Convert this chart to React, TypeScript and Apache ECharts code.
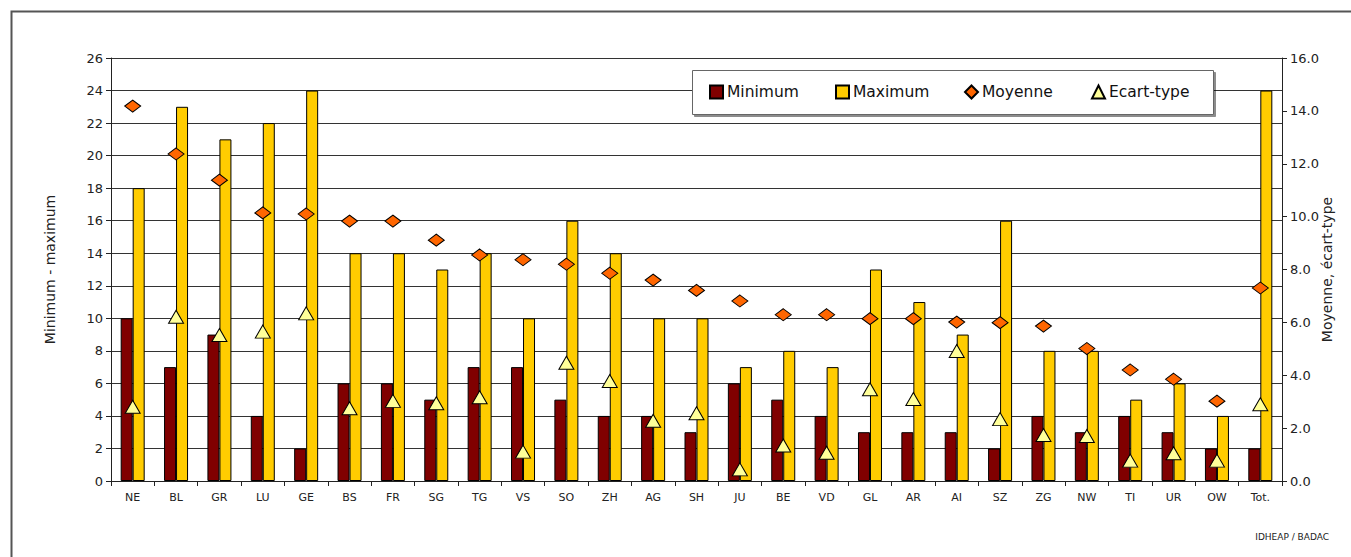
import React, { useEffect, useRef } from "react";
import * as echarts from "echarts";

const categories = ["NE", "BL", "GR", "LU", "GE", "BS", "FR", "SG", "TG", "VS", "SO", "ZH", "AG", "SH", "JU", "BE", "VD", "GL", "AR", "AI", "SZ", "ZG", "NW", "TI", "UR", "OW", "Tot."];
const minimum = [10, 7, 9, 4, 2, 6, 6, 5, 7, 7, 5, 4, 4, 3, 6, 5, 4, 3, 3, 3, 2, 4, 3, 4, 3, 2, 2];
const maximum = [18, 23, 21, 22, 24, 14, 14, 13, 14, 10, 16, 14, 10, 10, 7, 8, 7, 13, 11, 9, 16, 8, 8, 5, 6, 4, 24];
const moyenne = [14.18, 12.37, 11.38, 10.14, 10.1, 9.83, 9.83, 9.11, 8.55, 8.37, 8.2, 7.86, 7.6, 7.21, 6.81, 6.29, 6.29, 6.14, 6.14, 6.01, 5.99, 5.86, 5.01, 4.2, 3.85, 3.02, 7.3];
const ecartType = [2.81, 6.21, 5.52, 5.65, 6.34, 2.75, 3.03, 2.94, 3.17, 1.11, 4.47, 3.78, 2.28, 2.56, 0.44, 1.34, 1.07, 3.47, 3.1, 4.92, 2.34, 1.74, 1.7, 0.77, 1.05, 0.77, 2.9];
const leftTicks = { min: 0, max: 26, interval: 2 };
const rightTicks = { min: 0, max: 16, interval: 2 };
const legendNames = ["Minimum", "Maximum", "Moyenne", "Ecart-type"];
const legendIcons = ["rect", "rect", "diamond", "triangle"];

const FONT = "DejaVu Sans";
const LEGEND_LEFTS = [709, 835, 964, 1091];

export default function App() {
  const ref = useRef<HTMLDivElement>(null);
  useEffect(() => {
    if (!ref.current) return;
    const chart = echarts.init(ref.current, null, { renderer: "svg" });
    const legends = legendNames.map((name, i) => ({
      left: LEGEND_LEFTS[i],
      top: 84,
      padding: 0,
      itemWidth: 13,
      itemHeight: 13,
      itemGap: 5,
      textStyle: { fontFamily: FONT, fontSize: 15.5, color: "#111", padding: [0, 0, 0, -1] },
      data: [{ name, icon: legendIcons[i] }],
      z: 10,
    }));
    chart.setOption({
      animation: false,
      backgroundColor: "#ffffff",
      textStyle: { fontFamily: FONT },
      grid: { left: 111, right: 69, top: 58, bottom: 76 },
      legend: legends,
      xAxis: {
        type: "category",
        data: categories,
        axisLine: { lineStyle: { color: "#222", width: 1 } },
        axisTick: { show: true, length: 5, lineStyle: { color: "#222" } },
        axisLabel: { fontSize: 11, color: "#222", margin: 11, fontFamily: FONT },
      },
      yAxis: [
        {
          type: "value",
          min: leftTicks.min,
          max: leftTicks.max,
          interval: leftTicks.interval,
          name: "Minimum - maximum",
          nameLocation: "middle",
          nameGap: 54,
          nameMoveOverlap: false,
          nameRotate: 90,
          nameTextStyle: { fontSize: 14, color: "#222", fontFamily: FONT },
          axisLine: { show: true, lineStyle: { color: "#222" } },
          axisTick: { show: true, length: 5, lineStyle: { color: "#222" } },
          axisLabel: { fontSize: 13, color: "#222", margin: 8, fontFamily: FONT },
          splitLine: { show: true, lineStyle: { color: "#333", width: 1 } },
        },
        {
          type: "value",
          min: rightTicks.min,
          max: rightTicks.max,
          interval: rightTicks.interval,
          position: "right",
          name: "Moyenne, écart-type",
          nameLocation: "middle",
          nameGap: 38,
          nameMoveOverlap: false,
          nameRotate: 90,
          nameTextStyle: { fontSize: 14, color: "#222", fontFamily: FONT },
          axisLine: { show: true, lineStyle: { color: "#222" } },
          axisTick: { show: true, length: 5, lineStyle: { color: "#222" } },
          axisLabel: {
            fontSize: 13,
            color: "#222",
            margin: 8,
            fontFamily: FONT,
            formatter: (v: number) => v.toFixed(1),
          },
          splitLine: { show: false },
        },
      ],
      series: [
        {
          name: "Minimum",
          type: "bar",
          data: minimum,
          yAxisIndex: 0,
          barWidth: 12,
          barGap: "0%",
          itemStyle: { color: "#800000", borderColor: "#000", borderWidth: 1 },
        },
        {
          name: "Maximum",
          type: "bar",
          data: maximum,
          yAxisIndex: 0,
          barWidth: 12,
          barGap: "0%",
          itemStyle: { color: "#FFCC00", borderColor: "#000", borderWidth: 1 },
        },
        {
          name: "Moyenne",
          type: "scatter",
          data: moyenne,
          yAxisIndex: 1,
          symbol: "diamond",
          symbolSize: [16, 12],
          itemStyle: { color: "#FF6600", borderColor: "#000", borderWidth: 1, opacity: 1 },
          z: 5,
        },
        {
          name: "Ecart-type",
          type: "scatter",
          data: ecartType,
          yAxisIndex: 1,
          symbol: "triangle",
          symbolSize: [15, 13],
          itemStyle: { color: "#FFFF99", borderColor: "#000", borderWidth: 1, opacity: 1 },
          z: 5,
        },
      ],
      graphic: [
        {
          type: "rect",
          left: 9,
          top: 9,
          shape: { x: 0, y: 0, width: 1400, height: 600 },
          style: { fill: "none", stroke: "#555", lineWidth: 2 },
          silent: true,
          z: -1,
        },
        {
          type: "rect",
          left: 692,
          top: 70,
          shape: { x: 0, y: 0, width: 521, height: 44 },
          style: {
            fill: "#ffffff",
            stroke: "#666666",
            lineWidth: 1,
            shadowColor: "rgba(0,0,0,0.45)",
            shadowOffsetX: 2,
            shadowOffsetY: 2,
            shadowBlur: 1,
          },
          silent: true,
          z: 6,
        },
        {
          type: "text",
          right: 22,
          top: 532,
          style: { text: "IDHEAP / BADAC", fontSize: 9, fill: "#222", fontFamily: FONT },
        },
      ],
    });
    return () => chart.dispose();
  }, []);
  return (
    <div
      ref={ref}
      style={{ position: "absolute", left: 0, top: 0, width: 1351, height: 557 }}
    />
  );
}
